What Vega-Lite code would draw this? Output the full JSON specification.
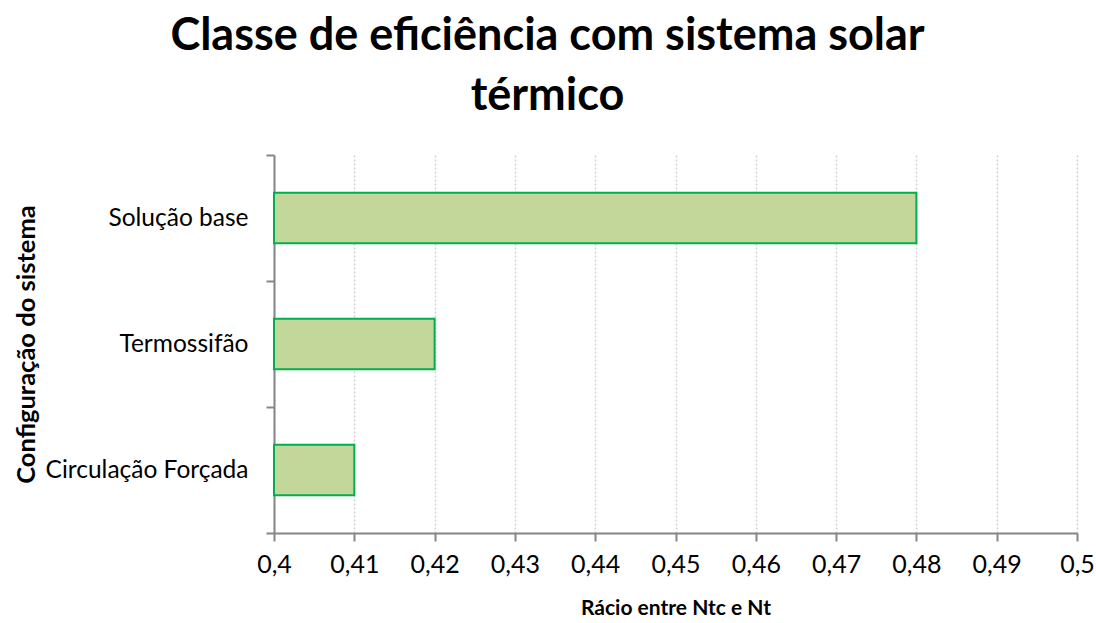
{
  "$schema": "https://vega.github.io/schema/vega-lite/v6.json",
  "width": 803,
  "height": 378,
  "autosize": "none",
  "padding": {"left": 274, "top": 155, "right": 19, "bottom": 90},
  "background": "white",
  "title": {
    "text": ["Classe de eficiência com sistema solar", "térmico"],
    "font": "Lato",
    "fontSize": 45,
    "fontWeight": "bold",
    "color": "#000000",
    "anchor": "middle",
    "dx": -128,
    "offset": 23,
    "lineHeight": 60
  },
  "data": {
    "values": [
      {"config": "Solução base", "ratio": 0.48},
      {"config": "Termossifão", "ratio": 0.42},
      {"config": "Circulação Forçada", "ratio": 0.41}
    ]
  },
  "mark": {"type": "bar", "fill": "#c4d79b", "stroke": "#00b050", "strokeWidth": 2, "height": {"band": 0.4}},
  "encoding": {
    "y": {
      "field": "config",
      "type": "nominal",
      "sort": null,
      "scale": {"paddingInner": 0, "paddingOuter": 0},
      "axis": {
        "title": "Configuração do sistema",
        "titleFont": "Lato",
        "titleFontSize": 25.5,
        "titleFontWeight": "bold",
        "titleColor": "#000000",
        "titleX": -248,
        "titleY": 189,
        "titleAngle": -90,
        "titleAlign": "center",
        "titleBaseline": "middle",
        "labelFont": "Lato",
        "labelFontSize": 24.5,
        "labelColor": "#000000",
        "labelPadding": 18,
        "labelLimit": 400,
        "tickBand": "extent",
        "tickSize": 8,
        "tickColor": "#868686",
        "tickWidth": 2,
        "domainColor": "#868686",
        "domainWidth": 2,
        "grid": false
      }
    },
    "x": {
      "field": "ratio",
      "type": "quantitative",
      "scale": {"domain": [0.4, 0.5], "zero": false, "nice": false, "clamp": true},
      "axis": {
        "title": "Rácio entre Ntc e Nt",
        "titleFont": "Lato",
        "titleFontSize": 21,
        "titleFontWeight": "bold",
        "titleColor": "#000000",
        "titlePadding": 20,
        "values": [0.4, 0.41, 0.42, 0.43, 0.44, 0.45, 0.46, 0.47, 0.48, 0.49, 0.5],
        "labelExpr": "replace(format(datum.value, '.2~f'), '.', ',')",
        "labelFont": "Lato",
        "labelFontSize": 25,
        "labelColor": "#000000",
        "labelPadding": 11,
        "labelFlush": false,
        "tickSize": 8,
        "tickColor": "#868686",
        "tickWidth": 2,
        "domainColor": "#868686",
        "domainWidth": 2,
        "grid": true,
        "gridColor": "#d0d0d0",
        "gridDash": [2, 2],
        "gridWidth": 1.5
      }
    }
  },
  "config": {"view": {"stroke": null}}
}
